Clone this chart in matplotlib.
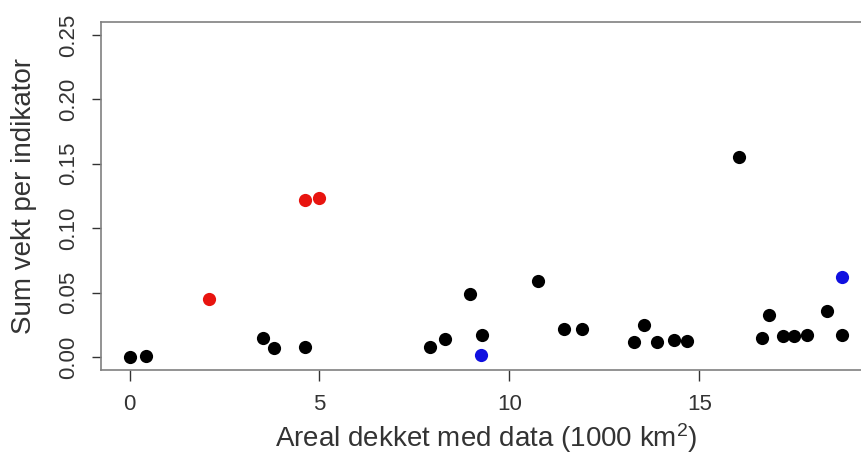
import matplotlib.pyplot as plt

# Areal dekket (1000 km2) and sum vekt per indikator, grouped by colour
black_x = [0.0, 0.43, 3.50, 3.79, 4.62, 7.90, 8.30, 8.97, 9.28, 10.75, 11.43, 11.92,
           13.29, 13.53, 13.89, 14.34, 14.66, 16.04, 16.65, 16.84, 17.20, 17.48,
           17.82, 18.37, 18.76]
black_y = [0.000, 0.0005, 0.0152, 0.0070, 0.0080, 0.0080, 0.0142, 0.0489, 0.0173,
           0.0594, 0.0217, 0.0222, 0.0116, 0.0253, 0.0116, 0.0132, 0.0124, 0.1552,
           0.0152, 0.0326, 0.0163, 0.0163, 0.0171, 0.0359, 0.0171]
red_x = [2.10, 4.63, 4.98]
red_y = [0.045, 0.122, 0.1236]
blue_x = [9.25, 18.76]
blue_y = [0.0013, 0.0623]

xticks = [0, 5, 10, 15]
yticks = [0.00, 0.05, 0.10, 0.15, 0.20, 0.25]

plt.rcParams['font.family'] = ['Liberation Sans', 'DejaVu Sans']
plt.rcParams['mathtext.fontset'] = 'custom'
plt.rcParams['mathtext.rm'] = 'Liberation Sans'
plt.rcParams['mathtext.it'] = 'Liberation Sans:italic'

fig = plt.figure(figsize=(8.62, 4.54), dpi=100)
ax = fig.add_axes([0.1172, 0.185, 0.893, 0.7665])

ax.plot(black_x, black_y, 'o', color='black', markersize=9.5, markeredgewidth=0)
ax.plot(red_x, red_y, 'o', color='#e8140f', markersize=9.5, markeredgewidth=0)
ax.plot(blue_x, blue_y, 'o', color='#1010e0', markersize=9.5, markeredgewidth=0)

ax.set_xlim(-0.75, 19.51)
ax.set_ylim(-0.01, 0.26)
ax.set_xticks(xticks)
ax.set_xticklabels([str(t) for t in xticks])
ax.set_yticks(yticks)
ax.set_yticklabels([f"{t:.2f}" for t in yticks], rotation=90, va='center')

for s in ax.spines.values():
    s.set_color('#808080')
    s.set_linewidth(1.2)
ax.tick_params(width=1, color='#333333', labelcolor='#333333', labelsize=16)
ax.tick_params(axis='x', length=8, pad=9)
ax.tick_params(axis='y', length=6.7, pad=9)

ax.set_xlabel("Areal dekket med data (1000 km$^2$)", fontsize=20, color='#333333', labelpad=4.5)
ax.set_ylabel("Sum vekt per indikator", fontsize=20, color='#333333', labelpad=15)

fig.savefig("out.png", dpi=100)
